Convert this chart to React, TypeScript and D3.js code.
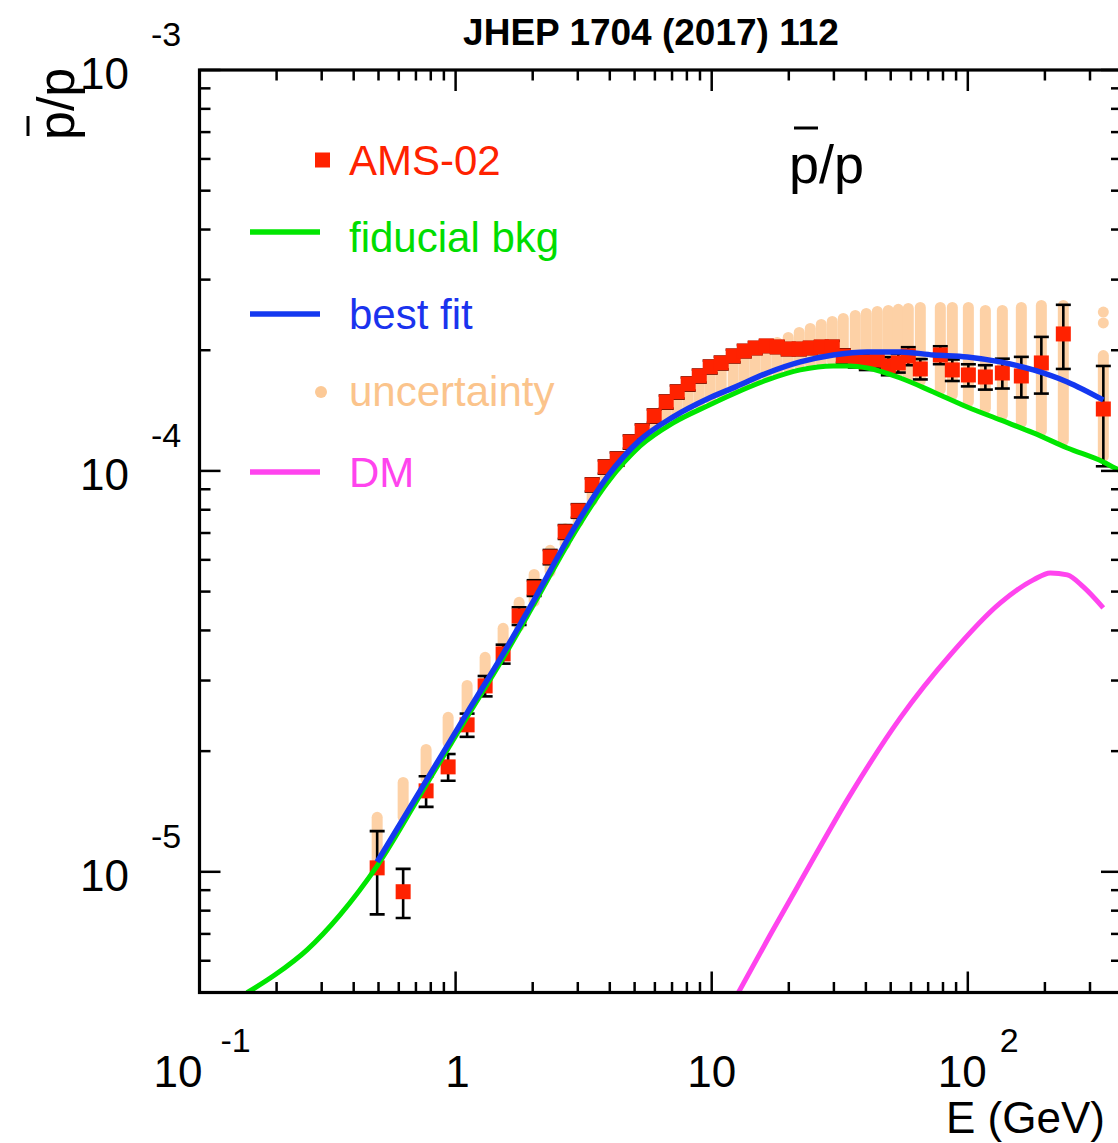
import React from 'react';
import * as d3 from 'd3';

// AMS-02 antiproton/proton ratio
const amsEnergy = [0.494, 0.624, 0.767, 0.935, 1.109, 1.304, 1.533, 1.770, 2.026, 2.339,
  2.678, 3.010, 3.414, 3.837, 4.274, 4.805, 5.352, 5.962, 6.642, 7.333,
  8.093, 8.941, 9.865, 10.89, 12.13, 13.40, 14.79, 16.33, 18.03, 19.90,
  21.97, 24.26, 26.78, 29.56, 32.64, 36.36, 40.14, 44.32, 48.93, 53.52,
  58.56, 65.24, 78.10, 87.0, 100.5, 117.1, 136.4, 161.8, 193.7, 236.0, 338.2];
const amsRatio = [1.023e-5, 8.92e-6, 1.592e-5, 1.827e-5, 2.326e-5, 2.909e-5, 3.496e-5, 4.348e-5, 5.107e-5, 6.10e-5,
  7.046e-5, 7.95e-5, 9.23e-5, 1.023e-4, 1.071e-4, 1.181e-4, 1.258e-4, 1.371e-4, 1.486e-4, 1.574e-4,
  1.648e-4, 1.725e-4, 1.817e-4, 1.859e-4, 1.935e-4, 1.991e-4, 2.026e-4, 2.050e-4, 2.038e-4, 2.014e-4,
  2.014e-4, 2.026e-4, 2.038e-4, 2.038e-4, 1.935e-4, 1.891e-4, 1.870e-4, 1.891e-4, 1.827e-4, 1.859e-4,
  1.935e-4, 1.796e-4, 1.946e-4, 1.786e-4, 1.735e-4, 1.715e-4, 1.755e-4, 1.725e-4, 1.859e-4, 2.196e-4, 1.427e-4];
const amsError = [2.4e-6, 1.25e-6, 1.4e-6, 1.4e-6, 1.55e-6, 1.7e-6, 1.9e-6, 2.2e-6, 2.3e-6, 2.5e-6,
  2.8e-6, 3.1e-6, 3.5e-6, 3.9e-6, 4.1e-6, 4.5e-6, 4.8e-6, 5.2e-6, 5.6e-6, 5.9e-6,
  6.2e-6, 6.4e-6, 6.7e-6, 6.8e-6, 7.0e-6, 7.0e-6, 7.0e-6, 7.0e-6, 7.0e-6, 7.0e-6,
  7.0e-6, 7.0e-6, 7.0e-6, 7.2e-6, 7.5e-6, 8.0e-6, 8.5e-6, 9.0e-6, 9.5e-6, 1.0e-5,
  1.0e-5, 1.05e-5, 1.0e-5, 1.1e-5, 1.1e-5, 1.2e-5, 1.5e-5, 2.0e-5, 3.0e-5, 4.0e-5, 4.0e-5];

// background uncertainty band at each data energy
const bandLow = [1.035e-5, 1.325e-5, 1.648e-5, 2.032e-5, 2.435e-5, 2.884e-5, 3.417e-5, 3.975e-5, 4.579e-5, 5.426e-5,
  6.36e-5, 7.235e-5, 8.178e-5, 9.175e-5, 9.954e-5, 1.082e-4, 1.165e-4, 1.229e-4, 1.299e-4, 1.353e-4,
  1.389e-4, 1.425e-4, 1.464e-4, 1.508e-4, 1.556e-4, 1.597e-4, 1.639e-4, 1.683e-4, 1.716e-4, 1.749e-4,
  1.785e-4, 1.798e-4, 1.812e-4, 1.827e-4, 1.827e-4, 1.821e-4, 1.806e-4, 1.775e-4, 1.741e-4, 1.711e-4,
  1.672e-4, 1.624e-4, 1.547e-4, 1.500e-4, 1.441e-4, 1.387e-4, 1.334e-4, 1.278e-4, 1.219e-4, 1.153e-4, 1.053e-4];
const bandHigh = [1.411e-5, 1.725e-5, 2.085e-5, 2.506e-5, 3.011e-5, 3.537e-5, 4.178e-5, 4.851e-5, 5.694e-5, 6.54e-5,
  7.4e-5, 8.3e-5, 9.6e-5, 1.06e-4, 1.11e-4, 1.22e-4, 1.30e-4, 1.41e-4, 1.53e-4, 1.62e-4,
  1.70e-4, 1.78e-4, 1.87e-4, 1.92e-4, 1.98e-4, 2.03e-4, 2.062e-4, 2.098e-4, 2.158e-4, 2.221e-4,
  2.286e-4, 2.339e-4, 2.393e-4, 2.435e-4, 2.477e-4, 2.520e-4, 2.55e-4, 2.579e-4, 2.594e-4, 2.61e-4,
  2.624e-4, 2.639e-4, 2.639e-4, 2.639e-4, 2.639e-4, 2.594e-4, 2.594e-4, 2.639e-4, 2.67e-4, 2.67e-4, 2.002e-4];
const bandExtraEnergy = [338.2, 338.2];
const bandExtraValue = [2.49e-4, 2.339e-4];

// fiducial background
const bkgEnergy = [0.1533, 0.1972, 0.263, 0.3538, 0.494, 0.767, 1.109, 1.533, 2.026, 2.877, 3.907, 5.256, 7.074, 9.603,
  12.13, 16.48, 22.17, 29.83, 34.75, 40.50, 54.5, 73.33, 99.5, 134, 180.3, 244.7, 338, 400];
const bkgRatio = [4.993e-6, 5.535e-6, 6.39e-6, 7.812e-6, 1.035e-5, 1.648e-5, 2.435e-5, 3.417e-5, 4.66e-5, 6.925e-5,
  9.335e-5, 1.154e-4, 1.318e-4, 1.452e-4, 1.556e-4, 1.686e-4, 1.786e-4, 1.827e-4, 1.827e-4, 1.806e-4,
  1.705e-4, 1.574e-4, 1.444e-4, 1.340e-4, 1.244e-4, 1.141e-4, 1.053e-4, 9.94e-5];

// best fit
const fitEnergy = [0.494, 0.767, 1.109, 1.533, 2.026, 2.877, 3.907, 5.256, 7.074, 9.603, 12.13, 16.48, 22.17,
  29.83, 40.50, 54.5, 73.33, 99.5, 134, 180.3, 244.7, 338];
const fitRatio = [1.059e-5, 1.686e-5, 2.492e-5, 3.496e-5, 4.768e-5, 7.127e-5, 9.66e-5, 1.195e-4, 1.364e-4, 1.512e-4,
  1.611e-4, 1.755e-4, 1.870e-4, 1.946e-4, 1.980e-4, 1.980e-4, 1.946e-4, 1.924e-4, 1.870e-4, 1.786e-4, 1.667e-4, 1.503e-4];

// dark matter contribution
const dmEnergy = [12.69, 16.93, 22.17, 34.75, 54.5, 85.43, 134, 180.3, 210, 244.7, 282.6, 338];
const dmRatio = [4.99e-6, 6.965e-6, 9.44e-6, 1.556e-5, 2.421e-5, 3.476e-5, 4.686e-5, 5.348e-5, 5.567e-5, 5.503e-5, 5.136e-5, 4.553e-5];

const xMajor = [0.1, 1, 10, 100];
const yMajor = [1e-5, 1e-4, 1e-3];
const xLabels = [
  { v: 0.1, base: '10', exp: '-1' },
  { v: 1, base: '1', exp: '' },
  { v: 10, base: '10', exp: '' },
  { v: 100, base: '10', exp: '2' },
];
const yLabels = [
  { v: 1e-3, exp: '-3' },
  { v: 1e-4, exp: '-4' },
  { v: 1e-5, exp: '-5' },
];

const legendItems = [
  { label: 'AMS-02', kind: 'square', color: '#ff2200', textColor: '#ff2200' },
  { label: 'fiducial bkg', kind: 'line', color: '#00e600', textColor: '#00dd00' },
  { label: 'best fit', kind: 'line', color: '#1438f0', textColor: '#1a33ee' },
  { label: 'uncertainty', kind: 'dot', color: '#fcc996', textColor: '#fbc48c' },
  { label: 'DM', kind: 'line', color: '#ff44ee', textColor: '#ff44ee' },
];

const W = 1118;
const H = 1143;
const L = 199.5, R = 1122, T = 70, B = 992.5;

export default function App() {
  const x = d3.scaleLog().domain([0.1, 400]).range([L, R]);
  const y = d3.scaleLog().domain([5e-6, 1e-3]).range([B, T]);

  const xMinor: number[] = [];
  [0.1, 1, 10, 100].forEach((d) => {
    for (let k = 2; k <= 9; k++) {
      const v = d * k;
      if (v <= 400) xMinor.push(v);
    }
  });
  const yMinor: number[] = [];
  [1e-6, 1e-5, 1e-4].forEach((d) => {
    for (let k = 2; k <= 9; k++) {
      const v = d * k;
      if (v >= 5e-6 && v <= 1e-3) yMinor.push(v);
    }
  });

  const line = d3
    .line<[number, number]>()
    .x((d) => x(d[0]))
    .y((d) => y(d[1]))
    .curve(d3.curveMonotoneX);

  const bkgPath = line(bkgEnergy.map((e, i) => [e, bkgRatio[i]]));
  const fitPath = line(fitEnergy.map((e, i) => [e, fitRatio[i]]));
  const dmPath = line(dmEnergy.map((e, i) => [e, dmRatio[i]]));

  const bandW = 11;
  const bandColor = '#fdd1a6';
  const font = "'Liberation Sans', Arial, Helvetica, sans-serif";

  const legendTextY = [175, 252, 329, 406, 487];
  const legendMarkY = [160, 232, 314, 392, 472];

  return (
    <div style={{ position: 'absolute', left: 0, top: 0 }}>
      <svg width={W} height={H} style={{ display: 'block', background: '#fff' }} fontFamily={font}>
        <defs>
          <clipPath id="plotclip">
            <rect x={L} y={T} width={R - L} height={B - T} />
          </clipPath>
        </defs>

        {/* title */}
        <text x={651} y={45} textAnchor="middle" fontSize={37} fontWeight="bold" fill="#000">
          JHEP 1704 (2017) 112
        </text>

        <g clipPath="url(#plotclip)">
          {/* uncertainty band */}
          {amsEnergy.map((e, i) => {
            const cx = x(e);
            const r = bandW / 2;
            const yt = y(bandHigh[i]) + r;
            const yb = y(bandLow[i]) - r;
            return (
              <line key={'b' + i} x1={cx} x2={cx} y1={yt} y2={Math.max(yt, yb)}
                stroke={bandColor} strokeWidth={bandW} strokeLinecap="round" />
            );
          })}
          {bandExtraEnergy.map((e, i) => (
            <circle key={'be' + i} cx={x(e)} cy={y(bandExtraValue[i])} r={bandW / 2} fill={bandColor} />
          ))}

          {/* error bars */}
          {amsEnergy.map((e, i) => {
            const cx = x(e);
            const y1 = y(amsRatio[i] + amsError[i]);
            const y2 = y(amsRatio[i] - amsError[i]);
            return (
              <g key={'e' + i} stroke="#000" strokeWidth={2.6}>
                <line x1={cx} x2={cx} y1={y1} y2={y2} />
                <line x1={cx - 7.5} x2={cx + 7.5} y1={y1} y2={y1} />
                <line x1={cx - 7.5} x2={cx + 7.5} y1={y2} y2={y2} />
              </g>
            );
          })}
          {/* data squares */}
          {amsEnergy.map((e, i) => (
            <rect key={'s' + i} x={x(e) - 7.5} y={y(amsRatio[i]) - 7.5} width={15} height={15} fill="#ff2200" />
          ))}

          <path d={bkgPath || ''} fill="none" stroke="#00e600" strokeWidth={5} />
          <path d={fitPath || ''} fill="none" stroke="#1438f0" strokeWidth={5.5} />
          <path d={dmPath || ''} fill="none" stroke="#ff44ee" strokeWidth={5} />
        </g>

        {/* legend */}
        {legendItems.map((it, i) => {
          const my = legendMarkY[i];
          return (
            <g key={'l' + i}>
              {it.kind === 'square' && <rect x={315} y={my - 7.5} width={15} height={15} fill={it.color} />}
              {it.kind === 'line' && <line x1={250} x2={320} y1={my} y2={my} stroke={it.color} strokeWidth={5.5} />}
              {it.kind === 'dot' && <circle cx={321} cy={my} r={6} fill={it.color} />}
              <text x={349} y={legendTextY[i]} fontSize={42} fill={it.textColor}>{it.label}</text>
            </g>
          );
        })}

        {/* inner label */}
        <text x={789} y={183} fontSize={54} fill="#000">p/p</text>
        <line x1={794} x2={818} y1={128} y2={128} stroke="#000" strokeWidth={3} />

        {/* ticks */}
        <g stroke="#000" strokeWidth={2.5}>
          {xMajor.map((v) => (
            <g key={'xM' + v}>
              <line x1={x(v)} x2={x(v)} y1={B} y2={B - 21} />
              <line x1={x(v)} x2={x(v)} y1={T} y2={T + 21} />
            </g>
          ))}
          {xMinor.map((v) => (
            <g key={'xm' + v}>
              <line x1={x(v)} x2={x(v)} y1={B} y2={B - 10.5} />
              <line x1={x(v)} x2={x(v)} y1={T} y2={T + 10.5} />
            </g>
          ))}
          {yMajor.map((v) => (
            <g key={'yM' + v}>
              <line x1={L} x2={L + 21} y1={y(v)} y2={y(v)} />
              <line x1={R} x2={R - 21} y1={y(v)} y2={y(v)} />
            </g>
          ))}
          {yMinor.map((v) => (
            <g key={'ym' + v}>
              <line x1={L} x2={L + 11} y1={y(v)} y2={y(v)} />
              <line x1={R} x2={R - 11} y1={y(v)} y2={y(v)} />
            </g>
          ))}
        </g>

        {/* frame */}
        <rect x={L} y={T} width={R - L} height={B - T} fill="none" stroke="#000" strokeWidth={3.2} />

        {/* y tick labels */}
        {yLabels.map((lb) => (
          <g key={'yl' + lb.exp}>
            <text x={80} y={y(lb.v) + 19} fontSize={44} fill="#000">10</text>
            <text x={151} y={y(lb.v) - 24} fontSize={34} fill="#000">{lb.exp}</text>
          </g>
        ))}

        {/* x tick labels */}
        {xLabels.map((lb) => {
          const tx = x(lb.v);
          if (!lb.exp) {
            return (
              <text key={'xl' + lb.v} x={tx + (lb.base === '1' ? 2 : 0)} y={1087} fontSize={44} textAnchor="middle" fill="#000">
                {lb.base}
              </text>
            );
          }
          const start = lb.exp.startsWith('-') ? tx - 46 : tx - 30;
          return (
            <g key={'xl' + lb.v}>
              <text x={start} y={1087} fontSize={44} fill="#000">{lb.base}</text>
              <text x={start + (lb.exp.startsWith('-') ? 67 : 62)} y={1052} fontSize={34} fill="#000">{lb.exp}</text>
            </g>
          );
        })}

        {/* axis titles */}
        <text x={946} y={1133} fontSize={44} fill="#000">E (GeV)</text>
        <text transform="translate(74,140) rotate(-90)" fontSize={52} fill="#000">p/p</text>
        <line x1={28} x2={28} y1={116} y2={136} stroke="#000" strokeWidth={3} />
      </svg>
    </div>
  );
}
